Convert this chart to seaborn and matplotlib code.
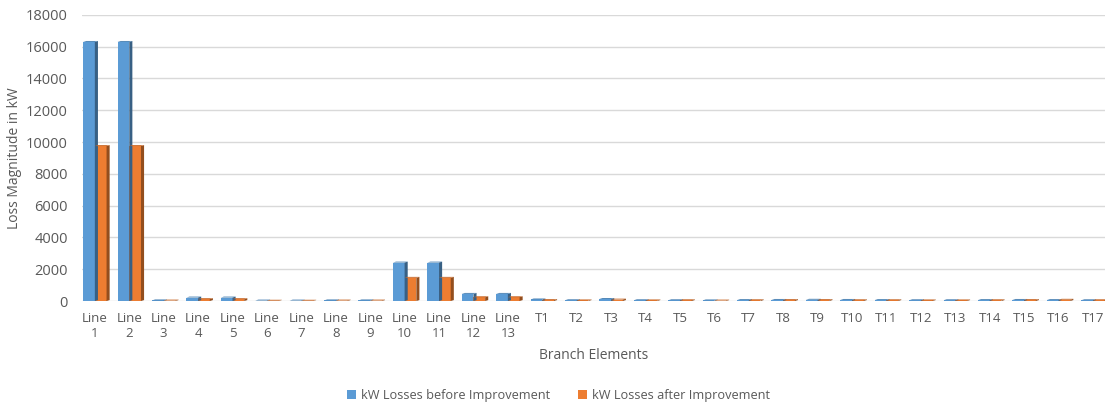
import numpy as np
import pandas as pd
import seaborn as sns
import matplotlib.pyplot as plt
from matplotlib.patches import Polygon
from matplotlib.colors import to_rgb

# categories
elements = ['Line\n1', 'Line\n2', 'Line\n3', 'Line\n4', 'Line\n5', 'Line\n6', 'Line\n7',
            'Line\n8', 'Line\n9', 'Line\n10', 'Line\n11', 'Line\n12', 'Line\n13',
            'T1', 'T2', 'T3', 'T4', 'T5', 'T6', 'T7', 'T8', 'T9', 'T10', 'T11',
            'T12', 'T13', 'T14', 'T15', 'T16', 'T17']

# losses (kW)
before = [16300, 16300, 40, 220, 220, 30, 30, 40, 40, 2420, 2420, 450, 450,
          100, 50, 130, 50, 50, 40, 60, 70, 80, 70, 60, 50, 50, 60, 70, 60, 50]
after = [9750, 9750, 30, 120, 120, 20, 20, 30, 30, 1460, 1460, 240, 240,
         60, 40, 90, 40, 50, 30, 50, 60, 60, 50, 50, 40, 40, 50, 60, 80, 50]

series_names = ['kW Losses before Improvement', 'kW Losses after Improvement']
colors = ['#5B9BD5', '#ED7D31']

df = pd.DataFrame({
    'Branch': elements * 2,
    'Loss': before + after,
    'Series': [series_names[0]] * len(elements) + [series_names[1]] * len(elements),
})

sns.set_theme(style='white')
plt.rcParams['font.family'] = ['Open Sans', 'DejaVu Sans']

fig = plt.figure(figsize=(11.05, 4.03), dpi=100)
ax = fig.add_axes([0.074, 0.253, 0.926, 0.71])

sns.barplot(data=df, x='Branch', y='Loss', hue='Series', palette=colors,
            width=0.68, gap=0.0, ax=ax, legend=True, saturation=1, linewidth=0)

# fake 3D side/top faces like the Excel chart
depth_x = 0.09
depth_y = 60
for p in list(ax.patches):
    h = p.get_height()
    if h <= 0:
        continue
    x0 = p.get_x()
    w = p.get_width()
    c = np.array(to_rgb(p.get_facecolor()))
    side = Polygon([(x0 + w, 0), (x0 + w + depth_x, depth_y),
                    (x0 + w + depth_x, h + depth_y), (x0 + w, h)],
                   closed=True, facecolor=c * 0.62, edgecolor='none', zorder=p.get_zorder())
    top = Polygon([(x0, h), (x0 + depth_x, h + depth_y),
                   (x0 + w + depth_x, h + depth_y), (x0 + w, h)],
                  closed=True, facecolor=c * 0.85, edgecolor='none', zorder=p.get_zorder())
    ax.add_patch(side)
    ax.add_patch(top)

ax.set_ylim(0, 18000)
ax.set_yticks(range(0, 18001, 2000))
ax.set_xlim(-0.38, len(elements) - 0.65)
ax.yaxis.grid(True, color='#D9D9D9', linewidth=1)
ax.set_axisbelow(True)
for s in ax.spines.values():
    s.set_visible(False)

ax.tick_params(axis='both', colors='#595959', labelsize=9.5, length=0)
ax.tick_params(axis='y', labelsize=10.5, pad=10)
ax.tick_params(axis='x', pad=8)
ax.set_ylabel('Loss Magnitude in kW', color='#595959', fontsize=10, labelpad=3)
ax.set_xlabel('Branch Elements', color='#595959', fontsize=10, labelpad=6)

handles, labels = ax.get_legend_handles_labels()
ax.legend(handles, labels, loc='center', bbox_to_anchor=(0.466, -0.33), ncol=2,
          frameon=False, fontsize=9.2, handlelength=0.7, handleheight=0.7,
          columnspacing=2.2, labelcolor='#595959', handletextpad=0.4)

fig.savefig('out.png', dpi=100)
